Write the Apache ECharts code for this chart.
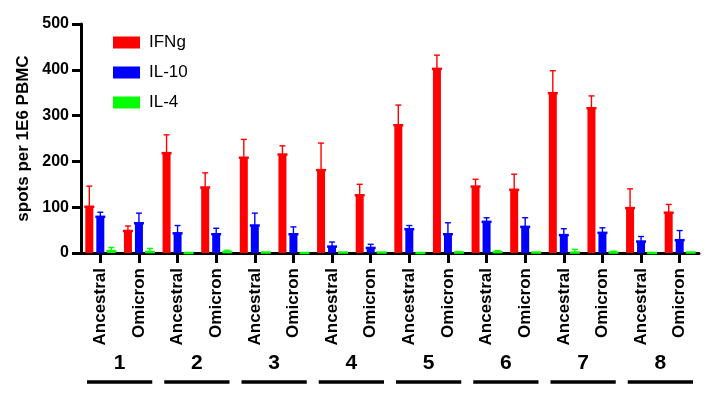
<!DOCTYPE html>
<html>
<head>
<meta charset="utf-8">
<script src="https://cdn.jsdelivr.net/npm/echarts@6/dist/echarts.min.js"></script>
<style>
html,body{margin:0;padding:0;background:#fff;}
#chart{width:712px;height:401px;}
</style>
</head>
<body>
<div id="chart"></div>
<script>
// ---- data ----
const categories = ['Ancestral','Omicron','Ancestral','Omicron','Ancestral','Omicron','Ancestral','Omicron',
                    'Ancestral','Omicron','Ancestral','Omicron','Ancestral','Omicron','Ancestral','Omicron'];
const groupLabels = ['1','2','3','4','5','6','7','8'];
const seriesNames = ['IFNg','IL-10','IL-4'];
const ifngMean = [101, 48, 218, 143, 208, 215, 181, 126, 279, 402, 145, 138, 349, 316, 98, 88];
const ifngSD   = [45, 11, 40, 32, 40, 19, 59, 24, 44, 30, 16, 34, 49, 27, 42, 18];
const il10Mean = [79, 65, 43, 41, 60, 41, 14, 11, 52, 41, 68, 57, 39, 44, 25, 28];
const il10SD   = [10, 22, 17, 13, 27, 16, 10, 8, 8, 25, 9, 20, 14, 11, 11, 21];
const il4Mean  = [4, 2, 0, 2, 1, 0, 1, 1, 0, 1, 2, 1, 1, 1, 0, 1];
const il4SD    = [8, 8, 0, 4, 1, 0, 1, 1, 0, 2, 3, 1, 7, 3, 0, 1];
const yTicks = [0, 100, 200, 300, 400, 500];

const colors = ['#ff0000', '#0000ff', '#00ff00'];
const means = [ifngMean, il10Mean, il4Mean];
const sds = [ifngSD, il10SD, il4SD];
const BAR_W = 8, GAP = 3;
const FONT = '"Liberation Sans", Arial, sans-serif';

const chart = echarts.init(document.getElementById('chart'));

const series = [];
seriesNames.forEach((name, k) => {
  series.push({
    name: name, type: 'bar', xAxisIndex: 0, yAxisIndex: 0,
    barWidth: BAR_W, barGap: (GAP / BAR_W * 100) + '%',
    itemStyle: { color: colors[k] },
    data: means[k]
  });
});
seriesNames.forEach((name, k) => {
  const offset = (k - 1) * (BAR_W + GAP);
  series.push({
    name: name + ' err', type: 'custom', xAxisIndex: 0, yAxisIndex: 0, z: 5,
    encode: { x: 0, y: [1, 2] },
    data: means[k].map((m, i) => [i, m, m + sds[k][i]]),
    renderItem: function (params, api) {
      const top = api.coord([api.value(0), api.value(1)]);
      const cap = api.coord([api.value(0), api.value(2)]);
      const x = top[0] + offset;
      const c = colors[k];
      const ch = [
        { type: 'line', shape: { x1: x - 5, y1: top[1], x2: x + 5, y2: top[1] }, style: { stroke: c, lineWidth: 2.5 } }
      ];
      if (cap[1] < top[1] - 0.5) {
        ch.push({ type: 'line', shape: { x1: x, y1: top[1], x2: x, y2: cap[1] }, style: { stroke: c, lineWidth: 1.4 } });
        ch.push({ type: 'line', shape: { x1: x - 3, y1: cap[1], x2: x + 3, y2: cap[1] }, style: { stroke: c, lineWidth: 1.4 } });
      }
      return { type: 'group', children: ch };
    }
  });
});
// group underlines
series.push({
  name: 'groups', type: 'custom', xAxisIndex: 1, yAxisIndex: 0, clip: false, silent: true,
  encode: { x: 0, y: 1 },
  data: groupLabels.map((g, i) => [i, 0]),
  renderItem: function (params, api) {
    const p = api.coord([api.value(0), 0]);
    const w = api.size([1, 0])[0];
    const y = p[1] + 129;
    return { type: 'line', shape: { x1: p[0] - w / 2 + 6, y1: y, x2: p[0] + w / 2 - 6, y2: y },
             style: { stroke: '#000', lineWidth: 3.5 } };
  }
});

chart.setOption({
  animation: false,
  backgroundColor: '#fff',
  textStyle: { fontFamily: FONT },
  grid: { left: 81, right: 13, top: 24, bottom: 148, containLabel: false },
  legend: {
    data: seriesNames, orient: 'vertical', left: 108, top: 29,
    icon: 'rect', itemWidth: 27, itemHeight: 12, itemGap: 13,
    textStyle: { fontFamily: FONT, fontSize: 17, color: '#000', padding: [0, 0, 0, 4] }
  },
  xAxis: [{
    type: 'category', data: categories, position: 'bottom',
    axisLine: { show: true, lineStyle: { color: '#000', width: 3 } },
    axisTick: { show: true, alignWithLabel: true, length: 10, lineStyle: { color: '#000', width: 3 } },
    axisLabel: { rotate: 90, margin: 15, color: '#000', fontSize: 17, fontWeight: 'bold', fontFamily: FONT, interval: 0 },
    splitLine: { show: false }
  }, {
    type: 'category', data: groupLabels, position: 'bottom',
    axisLine: { show: false }, axisTick: { show: false },
    axisLabel: { margin: 110, verticalAlign: 'middle', color: '#000', fontSize: 21, fontWeight: 'bold', fontFamily: FONT, interval: 0 },
    splitLine: { show: false }
  }],
  yAxis: {
    type: 'value', min: yTicks[0], max: yTicks[yTicks.length - 1], interval: 100,
    name: 'spots per 1E6 PBMC', nameLocation: 'middle', nameGap: 46,
    nameTextStyle: { fontSize: 17, fontWeight: 'bold', color: '#000', fontFamily: FONT },
    axisLine: { show: true, lineStyle: { color: '#000', width: 3 } },
    axisTick: { show: true, length: 9, lineStyle: { color: '#000', width: 3 } },
    axisLabel: { margin: 12, fontSize: 16, fontWeight: 'bold', color: '#000', fontFamily: FONT },
    splitLine: { show: false }
  },
  series: series
});
</script>
</body>
</html>
